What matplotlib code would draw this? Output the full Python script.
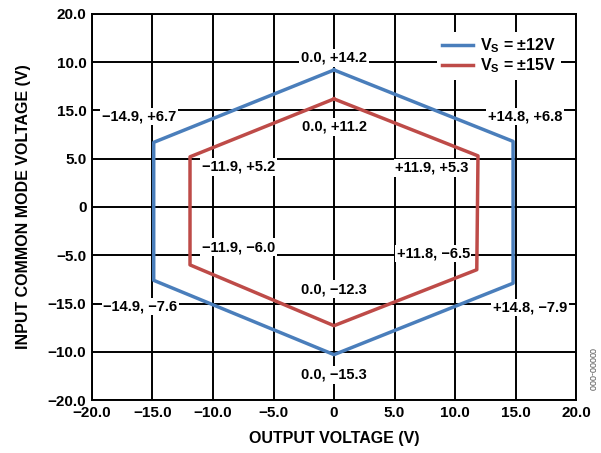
import matplotlib.pyplot as plt

plt.rcParams['font.family'] = ['Liberation Sans', 'DejaVu Sans']
plt.rcParams['font.weight'] = 'bold'

# hexagon corners (output V, input common mode V)
vs12_x = [0.0, 14.8, 14.8, 0.0, -14.9, -14.9, 0.0]
vs12_y = [14.2, 6.8, -7.9, -15.3, -7.6, 6.7, 14.2]
vs15_x = [0.0, 11.9, 11.8, 0.0, -11.9, -11.9, 0.0]
vs15_y = [11.2, 5.3, -6.5, -12.3, -6.0, 5.2, 11.2]

# labels and where they sit
labels = ["0.0, +14.2", "0.0, +11.2", "\u221214.9, +6.7", "\u221211.9, +5.2",
          "+11.9, +5.3", "+14.8, +6.8", "\u221211.9, \u22126.0", "\u221214.9, \u22127.6",
          "+11.8, \u22126.5", "+14.8, \u22127.9", "0.0, \u221212.3", "0.0, \u221215.3"]
label_x = [0.0, 0.0, -16.1, -7.9, 8.1, 15.8, -7.9, -16.0, 8.2, 16.2, 0.0, 0.0]
label_y = [15.45, 8.3, 9.35, 4.15, 4.05, 9.35, -4.15, -10.35, -4.85, -10.45, -8.5, -17.4]

xticks = [-20, -15, -10, -5, 0, 5, 10, 15, 20]
xticklabels = ["\u221220.0", "\u221215.0", "\u221210.0", "\u22125.0", "0", "5.0", "10.0", "15.0", "20.0"]
yticks = [-20, -15, -10, -5, 0, 5, 10, 15, 20]
# the tick labels are shown as printed in the datasheet
yticklabels = ["\u221220.0", "\u221210.0", "\u221215.0", "\u22125.0", "0", "5.0", "15.0", "10.0", "20.0"]

fig = plt.figure(figsize=(6.01, 4.53), dpi=100)
ax = fig.add_axes([92 / 601, 53 / 453, 484 / 601, 386 / 453])

ax.plot(vs12_x, vs12_y, color="#4a7ebb", lw=2.5, label="V$_\\mathregular{S}$ = \u00b112V", zorder=3)
ax.plot(vs15_x, vs15_y, color="#be4b48", lw=2.5, label="V$_\\mathregular{S}$ = \u00b115V", zorder=3)

for t, x, y in zip(labels, label_x, label_y):
    ax.text(x, y, t, ha="center", va="center", fontsize=10.5, fontweight="bold", zorder=4,
            bbox=dict(facecolor="white", edgecolor="none", pad=1.2))

ax.set_xlim(-20, 20)
ax.set_ylim(-20, 20)
ax.set_xticks(xticks)
ax.set_xticklabels(xticklabels)
ax.set_yticks(yticks)
ax.set_yticklabels(yticklabels)
ax.tick_params(length=0, labelsize=11, pad=4)
ax.grid(True, color="black", lw=1.4)
ax.set_axisbelow(True)
for s in ax.spines.values():
    s.set_linewidth(1.4)

ax.set_xlabel("OUTPUT VOLTAGE (V)", fontsize=11.5, fontweight="bold", labelpad=8)
ax.set_ylabel("INPUT COMMON MODE VOLTAGE (V)", fontsize=11.5, fontweight="bold", labelpad=12)

leg = ax.legend(loc="upper right", bbox_to_anchor=(0.985, 0.975), fontsize=11.5, frameon=True,
                framealpha=1, edgecolor="none", fancybox=False, handlelength=2.0,
                handletextpad=0.4, borderpad=0.3, labelspacing=0.1)
leg.set_zorder(5)

fig.text(591 / 601, (453 - 370) / 453, "00000-000", rotation=270, ha="center", va="center",
         fontsize=6.5, color="#555555", fontweight="normal")

fig.savefig("out.png", dpi=100)
